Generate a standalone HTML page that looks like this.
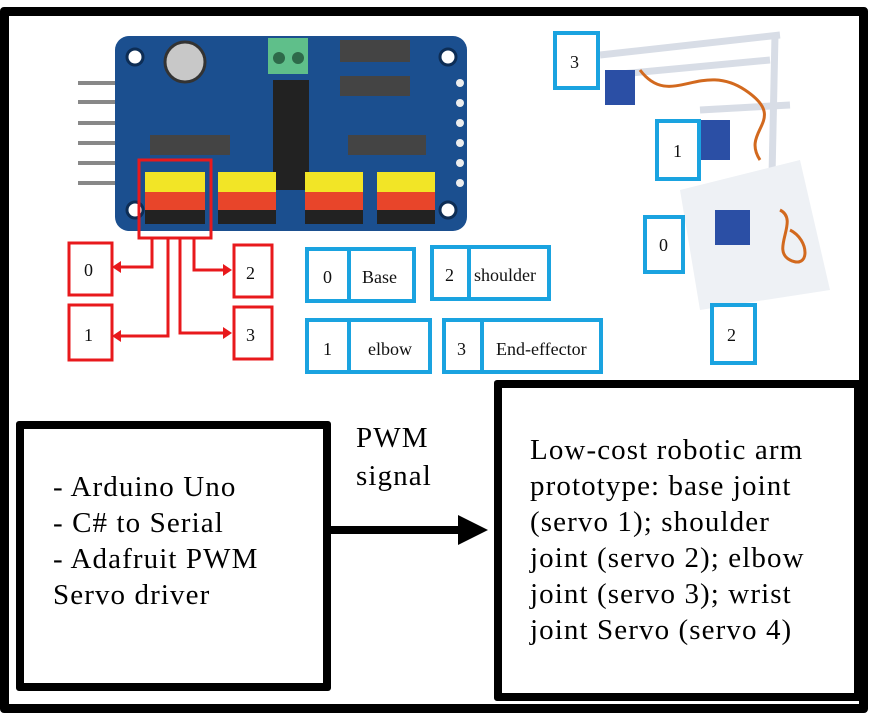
<!DOCTYPE html>
<html><head><style>
body{margin:0;width:872px;height:713px;background:#fff;position:relative;overflow:hidden;font-family:"Liberation Serif",serif}
.a{position:absolute;box-sizing:border-box}
.t{position:absolute;font-size:29px;letter-spacing:1.1px;line-height:36px;color:#000;white-space:nowrap}
</style></head><body>
<div class="a" style="left:0;top:7px;width:868px;height:706px;border:9px solid #000;border-radius:4px"></div>
<svg class="a" style="left:0;top:0" width="872" height="713">
<g stroke="#888" stroke-width="4"><line x1="78" y1="83" x2="125" y2="83"/><line x1="78" y1="102" x2="125" y2="102"/><line x1="78" y1="123" x2="125" y2="123"/><line x1="78" y1="143" x2="125" y2="143"/><line x1="78" y1="163" x2="125" y2="163"/><line x1="78" y1="183" x2="125" y2="183"/></g>
<rect x="115" y="36" width="352" height="195" rx="14" fill="#1b4f8f"/>
<circle cx="135" cy="57" r="8" fill="#fff" stroke="#0d2d55" stroke-width="3"/>
<circle cx="135" cy="210" r="8" fill="#fff" stroke="#0d2d55" stroke-width="3"/>
<circle cx="448" cy="57" r="8" fill="#fff" stroke="#0d2d55" stroke-width="3"/>
<circle cx="448" cy="210" r="8" fill="#fff" stroke="#0d2d55" stroke-width="3"/>
<circle cx="185" cy="62" r="20" fill="#c8c8c8" stroke="#333" stroke-width="3"/>
<rect x="268" y="38" width="40" height="36" fill="#5fbf8a"/>
<circle cx="279" cy="58" r="6" fill="#2e6a4a"/><circle cx="298" cy="58" r="6" fill="#2e6a4a"/>
<rect x="273" y="80" width="36" height="110" fill="#222"/>
<g fill="#444"><rect x="340" y="40" width="70" height="22"/><rect x="340" y="76" width="70" height="20"/><rect x="348" y="135" width="78" height="20"/><rect x="150" y="135" width="80" height="20"/></g>
<g fill="#eee"><circle cx="460" cy="83" r="4"/><circle cx="460" cy="103" r="4"/><circle cx="460" cy="123" r="4"/><circle cx="460" cy="143" r="4"/><circle cx="460" cy="163" r="4"/><circle cx="460" cy="183" r="4"/></g>
<g>
<rect x="145" y="172" width="60" height="20" fill="#f2e526"/><rect x="145" y="192" width="60" height="18" fill="#e8452a"/><rect x="145" y="210" width="60" height="14" fill="#222"/>
<rect x="218" y="172" width="58" height="20" fill="#f2e526"/><rect x="218" y="192" width="58" height="18" fill="#e8452a"/><rect x="218" y="210" width="58" height="14" fill="#222"/>
<rect x="305" y="172" width="58" height="20" fill="#f2e526"/><rect x="305" y="192" width="58" height="18" fill="#e8452a"/><rect x="305" y="210" width="58" height="14" fill="#222"/>
<rect x="377" y="172" width="58" height="20" fill="#f2e526"/><rect x="377" y="192" width="58" height="18" fill="#e8452a"/><rect x="377" y="210" width="58" height="14" fill="#222"/>
</g>
<g fill="none" stroke="#e8191c" stroke-width="3">
<rect x="139" y="160" width="72" height="78"/>
<rect x="69" y="243" width="43" height="52"/><rect x="234" y="245" width="38" height="52"/>
<rect x="69" y="305" width="43" height="55"/><rect x="234" y="307" width="38" height="52"/>
<polyline points="152,238 152,267 115,267"/><polyline points="168,238 168,336 115,336"/>
<polyline points="180,238 180,333 228,333"/><polyline points="194,238 194,270 228,270"/>
</g>
<g fill="#e8191c"><polygon points="112,267 121,261 121,273"/><polygon points="112,336 121,330 121,342"/><polygon points="232,333 223,327 223,339"/><polygon points="232,270 223,264 223,276"/></g>
<g stroke="#d8dde6" stroke-width="7" fill="none"><line x1="600" y1="55" x2="780" y2="35"/><line x1="610" y1="75" x2="770" y2="60"/><line x1="775" y1="35" x2="770" y2="270"/><line x1="700" y1="110" x2="790" y2="105"/><line x1="690" y1="190" x2="710" y2="280"/></g>
<polygon points="680,190 800,160 830,290 700,310" fill="#eef1f5"/>
<rect x="605" y="70" width="30" height="35" fill="#2b4fa5"/><rect x="700" y="120" width="30" height="40" fill="#2b4fa5"/><rect x="715" y="210" width="35" height="35" fill="#2b4fa5"/>
<path d="M640 70 C670 110 700 60 745 90 S740 130 760 160" stroke="#d2691e" stroke-width="3" fill="none"/>
<path d="M780 210 c20 10 -10 40 10 50 s20 -20 0 -30" stroke="#d2691e" stroke-width="3" fill="none"/>
<g fill="none" stroke="#1aa3e0" stroke-width="4">
<rect x="307" y="249" width="107" height="52"/><line x1="349" y1="249" x2="349" y2="301"/>
<rect x="432" y="247" width="117" height="52"/><line x1="469" y1="247" x2="469" y2="299"/>
<rect x="307" y="320" width="123" height="52"/><line x1="349" y1="320" x2="349" y2="372"/>
<rect x="444" y="320" width="157" height="52"/><line x1="482" y1="320" x2="482" y2="372"/>
<rect x="555" y="33" width="43" height="55"/><rect x="657" y="121" width="42" height="58"/>
<rect x="645" y="217" width="38" height="55"/><rect x="712" y="305" width="43" height="58"/>
</g>
<g font-family="Liberation Serif,serif" font-size="18" fill="#111">
<text x="84" y="276">0</text><text x="84" y="341">1</text><text x="246" y="279">2</text><text x="246" y="341">3</text>
<text x="323" y="283">0</text><text x="362" y="283">Base</text>
<text x="445" y="281">2</text><text x="474" y="281">shoulder</text>
<text x="323" y="355">1</text><text x="368" y="355">elbow</text>
<text x="457" y="355">3</text><text x="496" y="355">End-effector</text>
<text x="570" y="68">3</text><text x="673" y="157">1</text><text x="659" y="251">0</text><text x="727" y="341">2</text>
</g>
<line x1="330" y1="530" x2="462" y2="530" stroke="#000" stroke-width="8"/>
<polygon points="488,530 458,515 458,545" fill="#000"/>
</svg>
<div class="a" style="left:16px;top:421px;width:315px;height:270px;border:8px solid #000;border-radius:3px"></div>
<div class="a" style="left:494px;top:380px;width:368px;height:321px;border:8px solid #000;border-radius:3px"></div>
<div class="t" style="left:53px;top:469px">- Arduino Uno<br>- C# to Serial<br>- Adafruit PWM<br>Servo driver</div>
<div class="t" style="left:356px;top:419px;line-height:38px">PWM<br>signal</div>
<div class="t" style="left:530px;top:432px">Low-cost robotic arm<br>prototype: base joint<br>(servo 1); shoulder<br>joint (servo 2); elbow<br>joint (servo 3); wrist<br>joint Servo (servo 4)</div>
</body></html>
